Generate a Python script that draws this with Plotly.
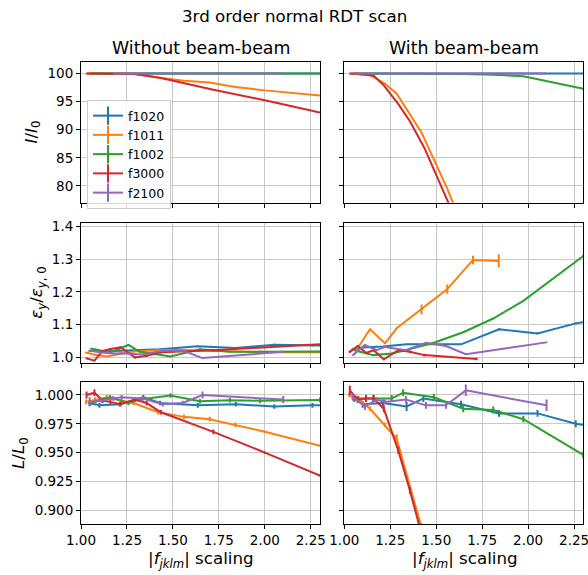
import plotly.graph_objects as go

# ---------------- data ----------------
series_names = ["f1020", "f1011", "f1002", "f3000", "f2100"]
colors = ["#1f77b4", "#ff7f0e", "#2ca02c", "#d62728", "#9467bd"]

# f1020 (blue)
x_f1020 = [1.045, 1.10, 1.21, 1.339, 1.43, 1.635, 1.842, 2.051, 2.259, 2.47]
I_f1020_nobb = [100, 100, 100, 100, 100, 100, 100, 100, 100, 100]
I_f1020_bb = [100, 100, 100, 100, 100, 100, 100, 100, 100, 100]
eps_f1020_nobb = [1.020, 1.018, 1.020, 1.022, 1.025, 1.034, 1.029, 1.039, 1.036, 1.035]
eps_f1020_bb = [1.025, 1.030, 1.033, 1.040, 1.040, 1.040, 1.086, 1.073, 1.104, 1.125]
L_f1020_nobb = [0.993, 0.991, 0.992, 0.998, 0.993, 0.991, 0.992, 0.990, 0.991, 0.991]
L_f1020_bb = [0.998, 0.992, 0.993, 0.990, 0.997, 0.992, 0.984, 0.984, 0.975, 0.970]
Lerr_f1020_nobb = [0.002, 0.002, 0.002, 0.002, 0.002, 0.002, 0.002, 0.002, 0.002, 0.002]
Lerr_f1020_bb = [0.002, 0.003, 0.003, 0.004, 0.003, 0.003, 0.003, 0.003, 0.003, 0.003]
epserr_f1020 = [0.002, 0.002, 0.002, 0.002, 0.002, 0.002, 0.003, 0.003, 0.003, 0.003]

# f1011 (orange)
x_f1011_nobb = [1.027, 1.076, 1.14, 1.221, 1.285, 1.42, 1.56, 1.70, 1.84, 2.0, 2.3]
x_f1011_bb = [1.027, 1.076, 1.14, 1.221, 1.285, 1.42, 1.56, 1.70, 1.84]
I_f1011_nobb = [100, 100, 100, 100, 99.9, 99.3, 98.7, 98.4, 97.6, 97.0, 96.1]
I_f1011_bb = [100, 99.95, 99.7, 98.2, 96.4, 89.5, 79.5, 68.0, 57.0]
eps_f1011_nobb = [1.015, 1.008, 1.003, 1.012, 1.018, 1.022, 1.023, 1.020, 1.018, 1.016, 1.016]
eps_f1011_bb = [1.017, 1.032, 1.086, 1.043, 1.089, 1.147, 1.209, 1.298, 1.295]
L_f1011_nobb = [0.994, 0.996, 0.998, 0.995, 0.993, 0.985, 0.981, 0.979, 0.974, 0.968, 0.956]
L_f1011_bb = [1.000, 0.997, 0.988, 0.974, 0.962, 0.885, 0.800, 0.720, 0.650]
Lerr_f1011_nobb = [0.002, 0.002, 0.002, 0.002, 0.002, 0.002, 0.002, 0.002, 0.002, 0.001, 0.001]
Lerr_f1011_bb = [0.002, 0.002, 0.002, 0.002, 0.004, 0.004, 0.004, 0.004, 0.004]
epserr_f1011_nobb = [0.002] * 11
epserr_f1011_bb = [0.002, 0.002, 0.002, 0.002, 0.003, 0.015, 0.014, 0.013, 0.020]

# f1002 (green)
x_f1002 = [1.055, 1.158, 1.258, 1.32, 1.487, 1.647, 1.81, 1.974, 2.30]
I_f1002_nobb = [100, 100, 100, 100, 100, 100, 100, 100, 100]
I_f1002_bb = [100, 100, 100, 100, 100, 99.9, 99.8, 99.5, 97.3]
eps_f1002_nobb = [1.027, 1.015, 1.038, 1.017, 1.003, 1.025, 1.017, 1.018, 1.018]
eps_f1002_bb = [1.022, 1.007, 1.012, 1.020, 1.045, 1.077, 1.119, 1.173, 1.310]
L_f1002_nobb = [0.993, 0.998, 0.993, 0.996, 0.9995, 0.9945, 0.9955, 0.995, 0.9957]
L_f1002_bb = [0.997, 0.997, 0.997, 1.002, 0.998, 0.988, 0.987, 0.979, 0.948]
Lerr_f1002_nobb = [0.002] * 9
Lerr_f1002_bb = [0.003] * 9
epserr_f1002 = [0.002] * 9

# f3000 (red)
x_f3000_nobb = [1.03, 1.073, 1.118, 1.16, 1.215, 1.293, 1.357, 1.435, 1.72, 2.0, 2.3]
x_f3000_bb = [1.03, 1.073, 1.118, 1.16, 1.215, 1.293, 1.357, 1.435, 1.72]
I_f3000_nobb = [100, 100, 100, 100, 100, 99.9, 99.6, 99.2, 97.1, 95.25, 93.05]
I_f3000_bb = [100, 99.95, 99.8, 99.6, 97.9, 94.6, 91.5, 86.8, 65.5]
eps_f3000_nobb = [0.997, 0.990, 1.020, 1.026, 1.031, 1.000, 1.005, 1.016, 1.022, 1.030, 1.040]
eps_f3000_bb = [1.017, 1.035, 1.014, 1.022, 0.994, 1.022, 1.017, 1.007, 0.995]
L_f3000_nobb = [1.000, 1.002, 0.995, 0.994, 0.992, 0.996, 0.993, 0.985, 0.968, 0.950, 0.930]
L_f3000_bb = [1.004, 0.996, 0.997, 0.997, 0.988, 0.952, 0.917, 0.864, 0.700]
Lerr_f3000_nobb = [0.003, 0.003, 0.002, 0.002, 0.002, 0.002, 0.002, 0.002, 0.002, 0.001, 0.001]
Lerr_f3000_bb = [0.004, 0.003, 0.003, 0.003, 0.003, 0.003, 0.003, 0.003, 0.003]
epserr_f3000 = [0.003, 0.002, 0.003, 0.003, 0.003, 0.003, 0.004, 0.004, 0.004, 0.002, 0.002]

# f2100 (purple)
x_f2100 = [1.047, 1.112, 1.176, 1.221, 1.335, 1.444, 1.553, 1.661, 2.10]
I_f2100_nobb = [None, None, 100, 100, 100, 100, 100, 100, 100]
I_f2100_bb = [100, 100, 100, 100, 100, 100, 100, 100, 100]
eps_f2100_nobb = [1.021, 1.015, 1.012, 1.013, 1.009, 1.020, 1.021, 0.998, 1.017]
eps_f2100_bb = [1.007, 1.038, 1.022, 1.032, 1.022, 1.045, 1.035, 1.010, 1.046]
L_f2100_nobb = [0.994, 0.995, 0.997, 0.998, 0.997, 0.992, 0.993, 1.000, 0.996]
L_f2100_bb = [0.998, 0.990, 0.996, 0.994, 0.996, 0.991, 0.991, 1.004, 0.991]
Lerr_f2100_nobb = [0.004, 0.002, 0.002, 0.002, 0.002, 0.002, 0.002, 0.003, 0.003]
Lerr_f2100_bb = [0.003, 0.003, 0.002, 0.002, 0.003, 0.003, 0.003, 0.005, 0.005]
epserr_f2100 = [0.002] * 9

x_ticks = [1.0, 1.25, 1.5, 1.75, 2.0, 2.25]
I_ticks = [80, 85, 90, 95, 100]
eps_ticks = [1.0, 1.1, 1.2, 1.3, 1.4]
L_ticks = [0.900, 0.925, 0.950, 0.975, 1.000]

# ---------------- assemble ----------------
zero = lambda n: [0] * n
series = [
    dict(xl=x_f1020, xr=x_f1020,
         rows_l=[(I_f1020_nobb, zero(10)), (eps_f1020_nobb, epserr_f1020), (L_f1020_nobb, Lerr_f1020_nobb)],
         rows_r=[(I_f1020_bb, zero(10)), (eps_f1020_bb, epserr_f1020), (L_f1020_bb, Lerr_f1020_bb)]),
    dict(xl=x_f1011_nobb, xr=x_f1011_bb,
         rows_l=[(I_f1011_nobb, zero(11)), (eps_f1011_nobb, epserr_f1011_nobb), (L_f1011_nobb, Lerr_f1011_nobb)],
         rows_r=[(I_f1011_bb, zero(9)), (eps_f1011_bb, epserr_f1011_bb), (L_f1011_bb, Lerr_f1011_bb)]),
    dict(xl=x_f1002, xr=x_f1002,
         rows_l=[(I_f1002_nobb, zero(9)), (eps_f1002_nobb, epserr_f1002), (L_f1002_nobb, Lerr_f1002_nobb)],
         rows_r=[(I_f1002_bb, zero(9)), (eps_f1002_bb, epserr_f1002), (L_f1002_bb, Lerr_f1002_bb)]),
    dict(xl=x_f3000_nobb, xr=x_f3000_bb,
         rows_l=[(I_f3000_nobb, zero(11)), (eps_f3000_nobb, epserr_f3000), (L_f3000_nobb, Lerr_f3000_nobb)],
         rows_r=[(I_f3000_bb, zero(9)), (eps_f3000_bb, epserr_f3000[:9]), (L_f3000_bb, Lerr_f3000_bb)]),
    dict(xl=x_f2100, xr=x_f2100,
         rows_l=[(I_f2100_nobb, zero(9)), (eps_f2100_nobb, epserr_f2100), (L_f2100_nobb, Lerr_f2100_nobb)],
         rows_r=[(I_f2100_bb, zero(9)), (eps_f2100_bb, epserr_f2100), (L_f2100_bb, Lerr_f2100_bb)]),
]

W, H = 588, 575
col_px = [(81, 320), (344.3, 583.3)]
row_px = [(62.3, 202.7), (223.3, 363.3), (382.3, 524.0)]
y_ranges = [[77, 102], [0.982, 1.41], [0.888, 1.011]]
y_tickvals = [I_ticks, eps_ticks, L_ticks]
y_fmt = ["d", ".1f", ".3f"]

fig = go.Figure()
for s_i, s in enumerate(series):
    for c in range(2):
        xs = s["xl"] if c == 0 else s["xr"]
        rows = s["rows_l"] if c == 0 else s["rows_r"]
        for r in range(3):
            idx = r * 2 + c + 1
            ys, errs = rows[r]
            fig.add_trace(go.Scatter(
                x=xs, y=ys, mode="lines",
                line=dict(color=colors[s_i], width=2),
                error_y=dict(type="data", array=errs, color=colors[s_i], thickness=2, width=0,
                             visible=any(e > 0 for e in errs)),
                xaxis="x" if idx == 1 else f"x{idx}",
                yaxis="y" if idx == 1 else f"y{idx}",
                showlegend=False, connectgaps=False,
            ))

# legend entries
for s_i, name in enumerate(series_names):
    fig.add_trace(go.Scatter(
        x=[None], y=[None], mode="lines+markers", name=name,
        line=dict(color=colors[s_i], width=2),
        marker=dict(symbol="line-ns", size=13, line=dict(color=colors[s_i], width=2)),
        xaxis="x", yaxis="y", showlegend=True,
    ))

layout = dict(
    width=W, height=H, margin=dict(l=0, r=0, t=0, b=0, pad=0, autoexpand=False),
    paper_bgcolor="white", plot_bgcolor="white",
    font=dict(family="DejaVu Sans", color="black", size=13.5),
    legend=dict(x=87 / W, y=1 - 100 / H, xanchor="left", yanchor="top",
                bgcolor="rgba(255,255,255,0.85)", bordercolor="#cccccc", borderwidth=1,
                font=dict(size=12.5), tracegroupgap=0, itemwidth=30),
    showlegend=True,
)
for r in range(3):
    for c in range(2):
        idx = r * 2 + c + 1
        xn = "xaxis" if idx == 1 else f"xaxis{idx}"
        yn = "yaxis" if idx == 1 else f"yaxis{idx}"
        common = dict(showline=True, mirror=True, linecolor="black", linewidth=1,
                      ticks="outside", ticklen=4, tickwidth=1, tickcolor="black",
                      showgrid=True, gridcolor="#c8c8c8", gridwidth=1, zeroline=False,
                      automargin=False, ticklabeloverflow="allow",
                      tickfont=dict(size=13.5, family="DejaVu Sans"))
        layout[xn] = dict(common, domain=[col_px[c][0] / W, col_px[c][1] / W],
                          range=[1.0, 2.3], tickvals=x_ticks, tickformat=".2f",
                          showticklabels=(r == 2),
                          anchor="y" if idx == 1 else f"y{idx}")
        layout[yn] = dict(common, domain=[1 - row_px[r][1] / H, 1 - row_px[r][0] / H],
                          range=y_ranges[r], tickvals=y_tickvals[r], tickformat=y_fmt[r],
                          showticklabels=(c == 0),
                          anchor="x" if idx == 1 else f"x{idx}")
fig.update_layout(**layout)

ann = []
def add_text(text, x, y, size, angle=0):
    ann.append(dict(text=text, x=x / W, y=1 - y / H, xref="paper", yref="paper",
                    xanchor="center", yanchor="middle", showarrow=False,
                    textangle=angle, font=dict(size=size, family="DejaVu Sans", color="black")))

add_text("3rd order normal RDT scan", 294, 16, 16.7)
add_text("Without beam-beam", 200.5, 48, 17.4)
add_text("With beam-beam", 463.8, 48, 17.4)
add_text("<i>I</i>/<i>I</i><sub>0</sub>", 32, 132.5, 16.7, -90)
add_text("<i>ε<sub>y</sub></i>/<i>ε</i><sub><i>y</i>, 0</sub>", 37.5, 293.3, 16.7, -90)
add_text("<i>L</i>/<i>L</i><sub>0</sub>", 19, 453, 16.7, -90)
add_text("|<i>f<sub>jklm</sub></i>| scaling", 200.8, 559, 16.7)
add_text("|<i>f<sub>jklm</sub></i>| scaling", 464.5, 559, 16.7)
fig.update_layout(annotations=ann)

fig.write_html("out.html")
